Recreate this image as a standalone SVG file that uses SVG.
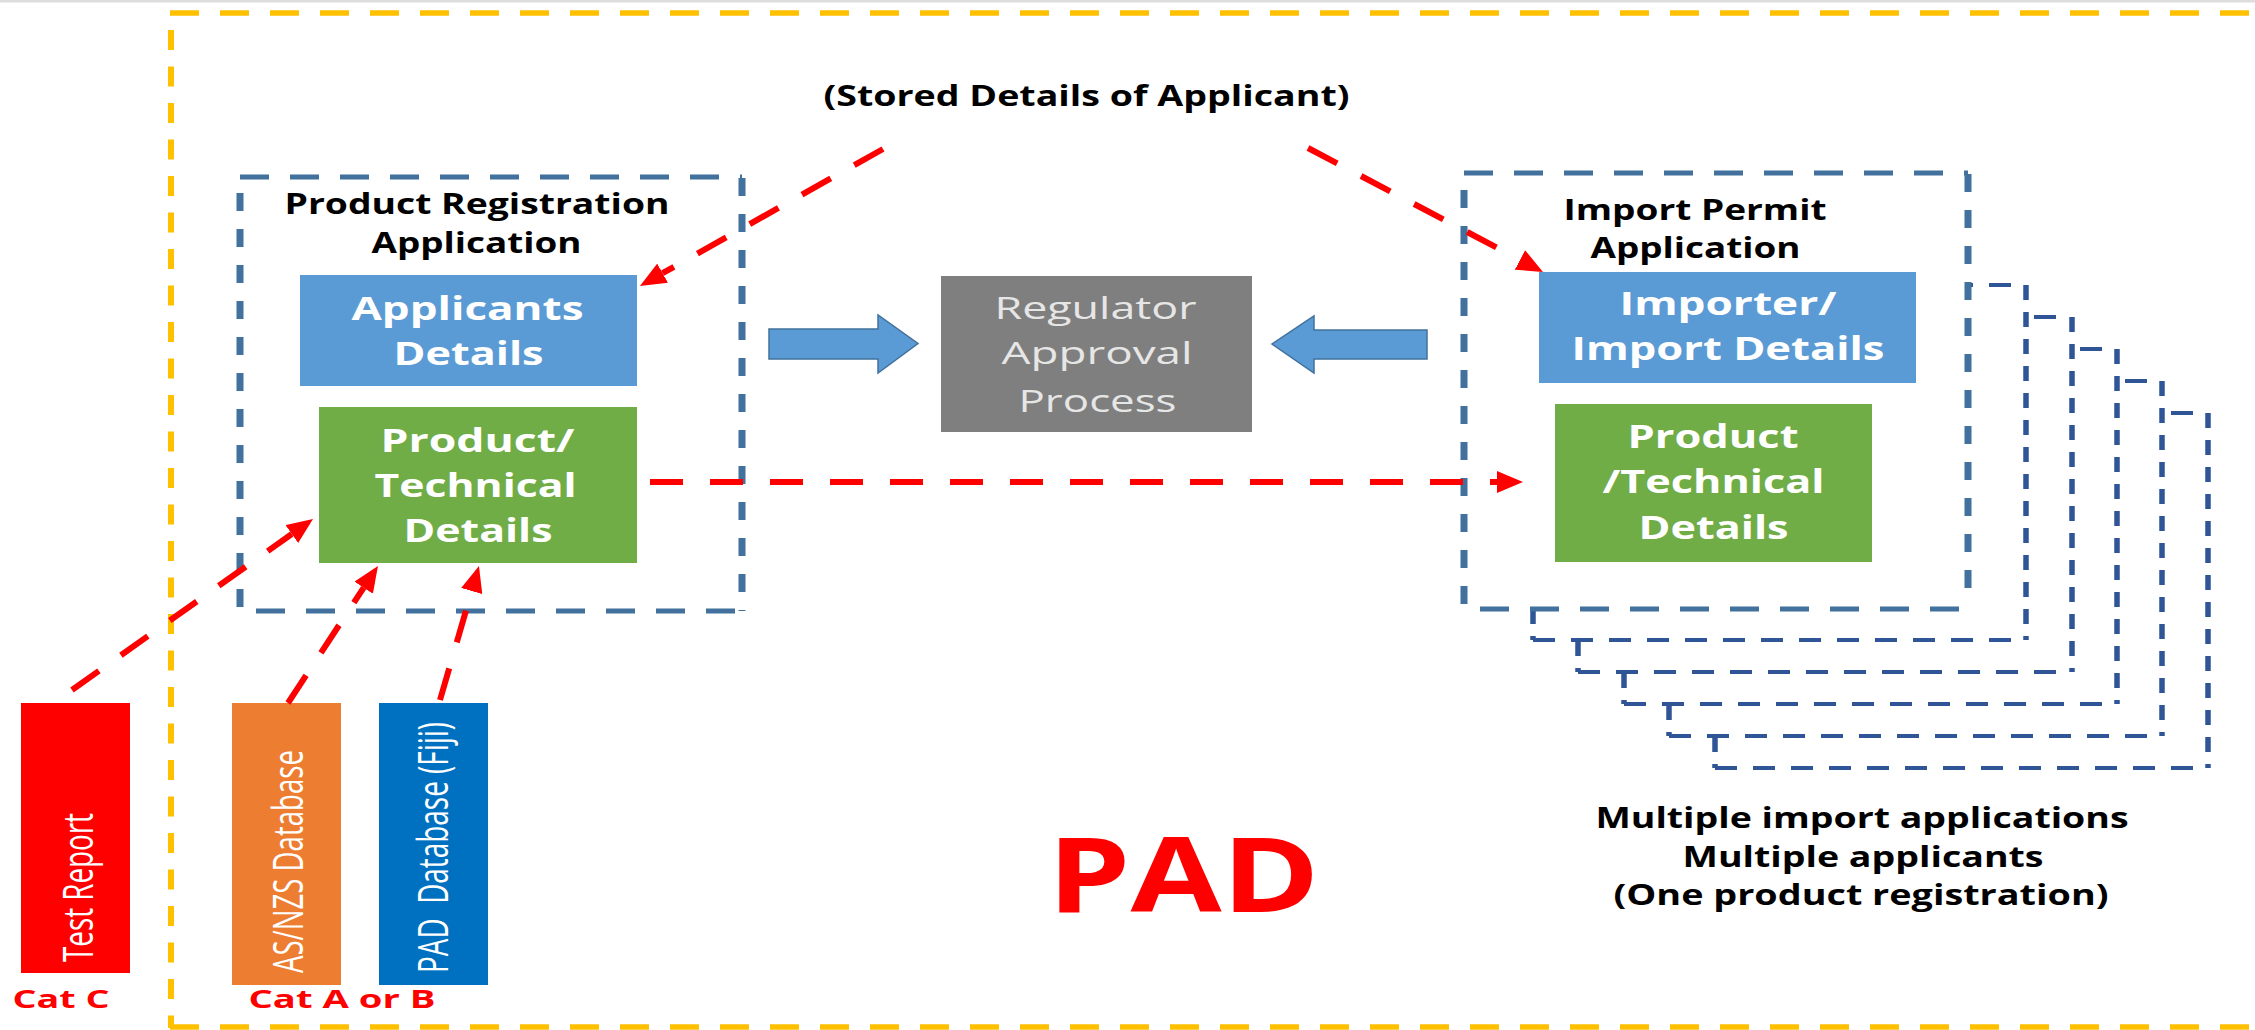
<svg xmlns="http://www.w3.org/2000/svg" width="2255" height="1030" viewBox="0 0 2255 1030">
<style>
.t{font-family:"Open Sans","Liberation Sans",sans-serif;text-anchor:middle}
.b{font-weight:bold}
.blk{fill:#000}
.wh{fill:#fff}
.gy{fill:#E6E6E6}
.rd{fill:#FF0000}
.rot{font-family:"Open Sans","Liberation Sans",sans-serif;font-size:27px;fill:#fff}
.ob{fill:none;stroke:#FFC000}
.obh{stroke-width:5.5;stroke-dasharray:29 21}
.obv{stroke-width:6;stroke-dasharray:20 16.5}
.dh{fill:none;stroke:#41719C;stroke-width:5;stroke-dasharray:29 21}
.dv{fill:none;stroke:#41719C;stroke-width:7;stroke-dasharray:18 18}
.fh{fill:none;stroke:#2F5597;stroke-width:4;stroke-dasharray:22 16}
.fv{fill:none;stroke:#2F5597;stroke-width:5.5;stroke-dasharray:15 12}
.conn{fill:none;stroke:#FF0000;stroke-width:6;stroke-dasharray:33 27}
.blockarrow{fill:#5B9BD5;stroke:#41719C;stroke-width:1.5}
</style>
<defs>
<marker id="ah" viewBox="0 0 26 22" refX="0" refY="11" markerWidth="26" markerHeight="22" markerUnits="userSpaceOnUse" orient="auto">
<path d="M0,0 L26,11 L0,22 z" fill="#FF0000"/>
</marker>
</defs>
<rect x="0" y="0" width="2255" height="1030" fill="#fff"/>
<rect x="0" y="0" width="2255" height="2.5" fill="#DDDDDD"/>

<g id="pad-border">
<path class="ob obh" d="M170,13 H2255"/>
<path class="ob obv" d="M171,30 V1028"/>
<path class="ob obh" d="M170,1027 H2255"/>
</g>

<text id="stored-label" class="t b blk" x="1086.5" y="106" font-size="29" textLength="526" lengthAdjust="spacingAndGlyphs">(Stored Details of Applicant)</text>

<g id="product-registration">
<rect x="240" y="177" width="502" height="434" fill="#fff"/>
<path class="dh" d="M240,177 H742 M256,611 H742"/>
<path class="dv" d="M240,193 V611 M742,178 V611"/>
<text class="t b blk" x="477" y="214" font-size="28" textLength="385" lengthAdjust="spacingAndGlyphs">Product Registration</text>
<text class="t b blk" x="476.5" y="253" font-size="28" textLength="210" lengthAdjust="spacingAndGlyphs">Application</text>
</g>

<g id="applicants-details">
<rect x="300" y="275" width="337" height="111" fill="#5B9BD5"/>
<text class="t b wh" x="467.5" y="320" font-size="32" textLength="232" lengthAdjust="spacingAndGlyphs">Applicants</text>
<text class="t b wh" x="468.5" y="365" font-size="32" textLength="150" lengthAdjust="spacingAndGlyphs">Details</text>
</g>

<g id="product-technical-left">
<rect x="319" y="407" width="318" height="156" fill="#70AD47"/>
<text class="t b wh" x="477.5" y="452" font-size="32" textLength="194" lengthAdjust="spacingAndGlyphs">Product/</text>
<text class="t b wh" x="475.5" y="497" font-size="32" textLength="202" lengthAdjust="spacingAndGlyphs">Technical</text>
<text class="t b wh" x="478" y="542" font-size="32" textLength="149" lengthAdjust="spacingAndGlyphs">Details</text>
</g>

<g id="regulator">
<rect x="941" y="276" width="311" height="156" fill="#7F7F7F"/>
<text class="t gy" x="1095.5" y="319" font-size="31" textLength="202" lengthAdjust="spacingAndGlyphs">Regulator</text>
<text class="t gy" x="1097" y="364" font-size="31" textLength="191" lengthAdjust="spacingAndGlyphs">Approval</text>
<text class="t gy" x="1097.5" y="412" font-size="31" textLength="158" lengthAdjust="spacingAndGlyphs">Process</text>
</g>

<g id="stacked-import-applications">
<g id="frame5"><rect x="1715" y="413" width="493" height="355" fill="#fff"/><path class="fh" d="M1715,413 H2208 M1715,768 H2208"/><path class="fv" d="M1715,413 V768 M2208,413 V768"/></g>
<g id="frame4"><rect x="1669" y="381" width="493" height="355" fill="#fff"/><path class="fh" d="M1669,381 H2162 M1669,736 H2162"/><path class="fv" d="M1669,381 V736 M2162,381 V736"/></g>
<g id="frame3"><rect x="1624" y="349" width="493" height="355" fill="#fff"/><path class="fh" d="M1624,349 H2117 M1624,704 H2117"/><path class="fv" d="M1624,349 V704 M2117,349 V704"/></g>
<g id="frame2"><rect x="1578" y="317" width="494" height="355" fill="#fff"/><path class="fh" d="M1578,317 H2072 M1578,672 H2072"/><path class="fv" d="M1578,317 V672 M2072,317 V672"/></g>
<g id="frame1"><rect x="1533" y="285" width="493" height="355" fill="#fff"/><path class="fh" d="M1533,285 H2026 M1533,640 H2026"/><path class="fv" d="M1533,285 V640 M2026,285 V640"/></g>
</g>

<g id="import-permit">
<rect x="1464" y="173" width="504" height="436" fill="#fff"/>
<path class="dh" d="M1464,173 H1968 M1480,609 H1968"/>
<path class="dv" d="M1464,190 V609 M1968,174 V600"/>
<text class="t b blk" x="1695" y="220" font-size="28" textLength="263" lengthAdjust="spacingAndGlyphs">Import Permit</text>
<text class="t b blk" x="1695.5" y="258" font-size="28" textLength="210" lengthAdjust="spacingAndGlyphs">Application</text>
</g>

<g id="importer-details">
<rect x="1539" y="272" width="377" height="111" fill="#5B9BD5"/>
<text class="t b wh" x="1728" y="315" font-size="32" textLength="217" lengthAdjust="spacingAndGlyphs">Importer/</text>
<text class="t b wh" x="1728" y="360" font-size="32" textLength="313" lengthAdjust="spacingAndGlyphs">Import Details</text>
</g>

<g id="product-technical-right">
<rect x="1555" y="404" width="317" height="158" fill="#70AD47"/>
<text class="t b wh" x="1713" y="448" font-size="32" textLength="171" lengthAdjust="spacingAndGlyphs">Product</text>
<text class="t b wh" x="1713.5" y="493" font-size="32" textLength="222" lengthAdjust="spacingAndGlyphs">/Technical</text>
<text class="t b wh" x="1713.5" y="539" font-size="32" textLength="150" lengthAdjust="spacingAndGlyphs">Details</text>
</g>

<g id="test-report">
<rect x="21" y="703" width="109" height="270" fill="#FF0000"/>
<text class="rot" transform="translate(93,962) rotate(-90) scale(1,1.55)" textLength="149" lengthAdjust="spacingAndGlyphs">Test Report</text>
</g>
<g id="asnzs-database">
<rect x="232" y="703" width="109" height="282" fill="#ED7D31"/>
<text class="rot" transform="translate(303,973) rotate(-90) scale(1,1.55)" textLength="223" lengthAdjust="spacingAndGlyphs">AS/NZS Database</text>
</g>
<g id="pad-database">
<rect x="379" y="703" width="109" height="282" fill="#0070C0"/>
<text class="rot" xml:space="preserve" transform="translate(448,973) rotate(-90) scale(1,1.55)" textLength="251" lengthAdjust="spacingAndGlyphs">PAD  Database (Fiji)</text>
</g>

<text id="cat-c" class="t b rd" x="61" y="1008" font-size="25" textLength="97" lengthAdjust="spacingAndGlyphs">Cat C</text>
<text id="cat-ab" class="t b rd" x="342" y="1008" font-size="25" textLength="187" lengthAdjust="spacingAndGlyphs">Cat A or B</text>

<text id="pad-title" class="t b rd" x="1183.5" y="912" font-size="104" textLength="272" lengthAdjust="spacingAndGlyphs">PAD</text>

<g id="multiple-note">
<text class="t b blk" x="1862" y="828" font-size="28" textLength="533" lengthAdjust="spacingAndGlyphs">Multiple import applications</text>
<text class="t b blk" x="1863" y="867" font-size="28" textLength="361" lengthAdjust="spacingAndGlyphs">Multiple applicants</text>
<text class="t b blk" x="1861" y="905" font-size="28" textLength="495" lengthAdjust="spacingAndGlyphs">(One product registration)</text>
</g>

<g id="connectors">
<polygon class="blockarrow" points="769,329 878,329 878,315 918,343.5 878,373 878,359 769,359"/>
<polygon class="blockarrow" points="1427,330 1314,330 1314,316 1272,344 1314,373 1314,359 1427,359"/>
<path class="conn" d="M883,149 L662.6,273.2" marker-end="url(#ah)"/>
<path class="conn" d="M1308,148 L1520,259.9" marker-end="url(#ah)"/>
<path class="conn" d="M650,482 L1497,482" marker-end="url(#ah)"/>
<path class="conn" d="M72,690 L291.8,534" marker-end="url(#ah)"/>
<path class="conn" d="M288,703 L363.7,587.7" marker-end="url(#ah)"/>
<path class="conn" d="M440,700 L471.7,591" marker-end="url(#ah)"/>
</g>
</svg>
